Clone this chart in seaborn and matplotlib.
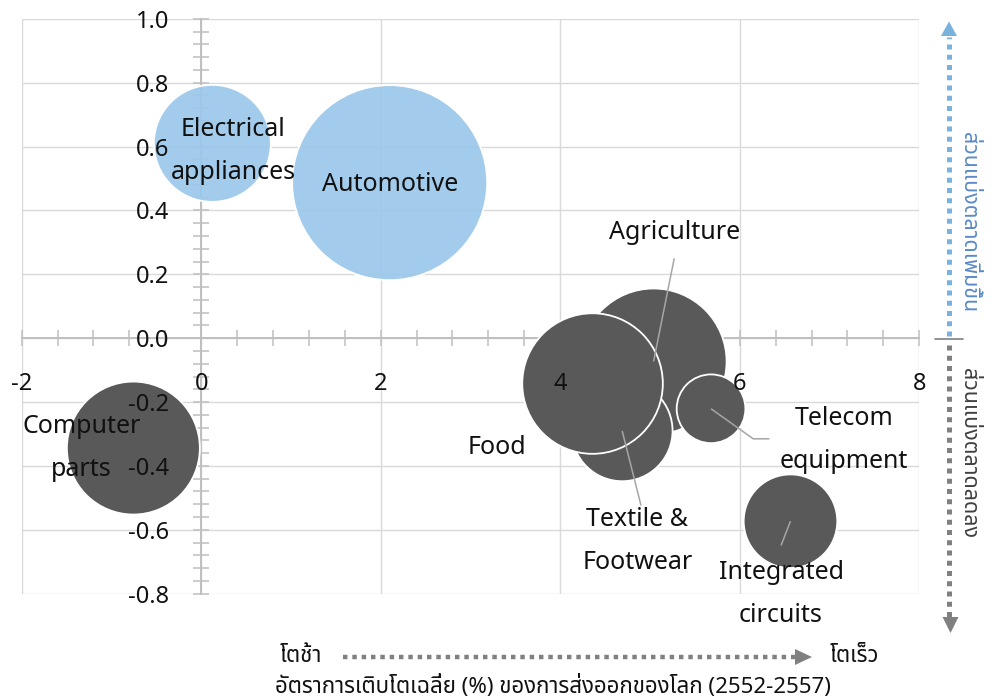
import matplotlib
matplotlib.use("Agg")
import matplotlib.pyplot as plt
from matplotlib import font_manager
from matplotlib.ft2font import FT2Font
from matplotlib.ticker import MultipleLocator, FormatStrFormatter, FixedLocator
import seaborn as sns
import pandas as pd

# ---------------- data ----------------
industries = ["Electrical\nappliances", "Automotive", "Computer\nparts", "Agriculture",
              "Textile &\nFootwear", "Food", "Telecom\nequipment", "Integrated\ncircuits"]
growth = [0.125, 2.10, -0.755, 5.04, 4.69, 4.36, 5.68, 6.565]          # x: world export growth (%)
share_change = [0.610, 0.487, -0.344, -0.073, -0.290, -0.142, -0.221, -0.573]  # y: market share change
bubble = [3.42, 9.51, 4.42, 5.33, 2.54, 4.94, 1.18, 2.19]               # bubble size (area)
trend = ["up", "up", "down", "down", "down", "down", "down", "down"]

x_ticks = [-2, 0, 2, 4, 6, 8]
y_ticks = [-0.8, -0.6, -0.4, -0.2, 0.0, 0.2, 0.4, 0.6, 0.8, 1.0]

txt_up = "ส่วนแบ่งตลาดเพิ่มขึ้น"
txt_down = "ส่วนแบ่งตลาดลดลง"
txt_slow = "โตช้า"
txt_fast = "โตเร็ว"
x_title = "อัตราการเติบโตเฉลี่ย (%) ของการส่งออกของโลก (2552-2557)"

df = pd.DataFrame({"industry": industries, "growth": growth,
                   "share": share_change, "size": bubble, "trend": trend})

# ---------------- fonts ----------------
def find_thai_family():
    prefs = ["Noto Sans Thai", "Noto Sans Thai UI", "Noto Sans Thai Looped", "Loma", "Garuda",
             "Sarabun", "Kanit", "Waree", "Norasi", "Tlwg Typo", "Laksaman"]
    found = {}
    for f in font_manager.fontManager.ttflist:
        try:
            cm = FT2Font(f.fname).get_charmap()
        except Exception:
            continue
        if 0x0E2A in cm and 0x0E40 in cm:
            found.setdefault(f.name, f.fname)
    for p in prefs:
        if p in found:
            return p
    return next(iter(found), None)

sns.set_theme(style="white")
thai = find_thai_family()
LATIN = ["Noto Sans", "DejaVu Sans"]
THAI = ([thai] if thai else []) + ["Noto Sans", "DejaVu Sans"]
plt.rcParams["font.family"] = LATIN

# ---------------- figure ----------------
W, H = 992, 700
fig = plt.figure(figsize=(W / 100, H / 100), dpi=100)
fig.patch.set_facecolor("white")

x0px, x1px, ytop, ybot = 21.6, 919.3, 18.8, 593.7
pos = [x0px / W, 1 - ybot / H, (x1px - x0px) / W, (ybot - ytop) / H]
ax = fig.add_axes(pos)
ax.set_facecolor("none")

palette = {"up": (0.608, 0.784, 0.922, 0.92), "down": (0.349, 0.349, 0.349, 1.0)}
px_to_pt = 0.72
max_area = max(bubble) * 1000 * (2 * px_to_pt) ** 2

sns.scatterplot(data=df, x="growth", y="share", size="size",
                sizes=(0, max_area), size_norm=(0, max(bubble)),
                hue="trend", palette=palette, edgecolor="white", linewidth=1.3,
                legend=False, ax=ax, zorder=3)

ax.set_xlim(-2, 8)
ax.set_ylim(-0.8, 1.0)
ax.xaxis.set_major_locator(FixedLocator(x_ticks))
ax.yaxis.set_major_locator(FixedLocator(y_ticks))
ax.xaxis.set_minor_locator(MultipleLocator(0.4))
ax.yaxis.set_minor_locator(MultipleLocator(0.04))
ax.xaxis.set_major_formatter(FormatStrFormatter("%d"))
ax.yaxis.set_major_formatter(FormatStrFormatter("%.1f"))
ax.set_xlabel("")
ax.set_ylabel("")
ax.set_axisbelow(True)
ax.grid(which="major", color="#D9D9D9", linewidth=1.0)
for s in ["top", "right"]:
    ax.spines[s].set_visible(False)
ax.spines["left"].set_position(("data", 0))
ax.spines["bottom"].set_position(("data", 0))
for s in ["left", "bottom"]:
    ax.spines[s].set_color("#BFBFBF")
    ax.spines[s].set_linewidth(1.4)
    ax.spines[s].set_zorder(0.6)
ax.tick_params(which="both", direction="inout", length=11.5, width=1.1, color="#BFBFBF",
               bottom=True, left=True, top=False, right=False,
               labelleft=False, labelbottom=False)

# label-only overlay axes (tick labels drawn above bubbles)
axl = fig.add_axes(pos, sharex=ax, sharey=ax)
axl.set_zorder(ax.get_zorder() + 1)
axl.patch.set_visible(False)
axl.grid(False)
for s in axl.spines.values():
    s.set_visible(False)
axl.spines["left"].set_position(("data", 0))
axl.spines["bottom"].set_position(("data", 0))
axl.tick_params(which="both", length=0)
axl.tick_params(axis="y", pad=23, labelsize=17, labelcolor="#111111")
axl.tick_params(axis="x", pad=24, labelsize=17, labelcolor="#111111")

# bubble labels (each line placed separately, 43 px apart)
label_pos = {
    "Electrical\nappliances": (0.36, 0.587),
    "Automotive": (2.10, 0.480),
    "Computer\nparts": (-1.33, -0.345),
    "Agriculture": (5.27, 0.330),
    "Textile &\nFootwear": (4.86, -0.636),
    "Food": (3.29, -0.342),
    "Telecom\nequipment": (7.16, -0.318),
    "Integrated\ncircuits": (6.46, -0.802),
}
line_gap_pt = 43 * px_to_pt
for name, (lx, ly) in label_pos.items():
    lines = name.split("\n")
    n = len(lines)
    for i, ln in enumerate(lines):
        off = ((n - 1) / 2 - i) * line_gap_pt
        axl.annotate(ln, xy=(lx, ly), xytext=(0, off), textcoords="offset points",
                     ha="center", va="center", fontsize=18, color="#111111",
                     zorder=6, annotation_clip=False)

lead = "#A6A6A6"
row = df.set_index("industry")
def leader(name, pts):
    xs = [row.loc[name, "growth"]] + [p[0] for p in pts]
    ys = [row.loc[name, "share"]] + [p[1] for p in pts]
    axl.plot(xs, ys, color=lead, lw=1.1, zorder=5, solid_capstyle="butt")

leader("Agriculture", [(5.27, 0.250)])
leader("Textile &\nFootwear", [(4.90, -0.524)])
leader("Telecom\nequipment", [(6.15, -0.315), (6.33, -0.315)])
leader("Integrated\ncircuits", [(6.46, -0.649)])

# ---------------- annotations in pixel space ----------------
ov = fig.add_axes([0, 0, 1, 1])
ov.set_zorder(axl.get_zorder() + 1)
ov.set_xlim(0, W)
ov.set_ylim(H, 0)
ov.axis("off")
ov.patch.set_visible(False)

blue_a = "#7AB2DE"
blue_t = "#5A8AC6"
gray_a = "#808080"

dot = dict(linewidth=3.6, linestyle=(0, (1, 1.05)), dash_capstyle="butt", solid_capstyle="butt")
ov.plot([949, 949], [336, 37], color=blue_a, **dot)
ov.fill([941, 957, 949], [36, 36, 21.5], color=blue_a, lw=0)
ov.plot([949, 949], [345, 617], color=gray_a, **dot)
ov.fill([942.5, 958.5, 950.5], [617, 617, 633], color=gray_a, lw=0)
ov.plot([935, 963], [339, 339], color="#7F7F7F", lw=1.2)

ov.text(969, 222, txt_up, rotation=270, ha="center", va="center", fontsize=15.5,
        color=blue_t, family=THAI)
ov.text(969, 453, txt_down, rotation=270, ha="center", va="center", fontsize=15.5,
        color="#404040", family=THAI)

ov.plot([343, 795], [657, 657], color=gray_a, linewidth=3.2, linestyle=(0, (1, 1.1)),
        dash_capstyle="butt")
ov.fill([795, 795, 812], [649, 665, 657], color=gray_a, lw=0)
ov.text(301, 657, txt_slow, ha="center", va="center", fontsize=16, color="#111111", family=THAI)
ov.text(854, 657, txt_fast, ha="center", va="center", fontsize=16, color="#111111", family=THAI)
ov.text(553, 687, x_title, ha="center", va="center", fontsize=16, color="#111111", family=THAI)

fig.savefig("out.png", dpi=100, facecolor="white")
